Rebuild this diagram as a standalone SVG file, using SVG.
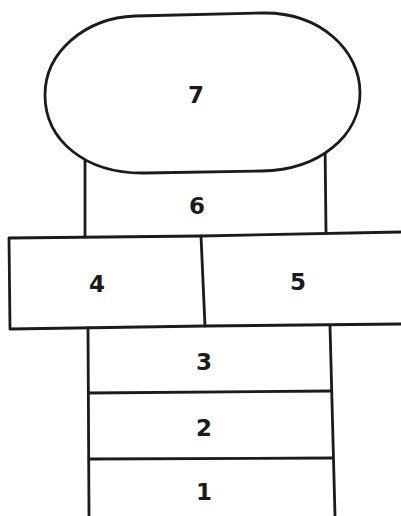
<svg xmlns="http://www.w3.org/2000/svg" width="401" height="516" viewBox="0 0 401 516">
<style>
.ln{fill:none;stroke:#1c1a1a;stroke-width:2.8;stroke-linecap:round;stroke-linejoin:round}
.sh{fill:#fff;stroke:#1c1a1a;stroke-width:2.8;stroke-linejoin:round}
.t{font-family:"DejaVu Sans",sans-serif;font-weight:bold;font-size:23px;fill:#1c1a1a;text-anchor:middle}
</style>
<rect width="401" height="516" fill="#fff"/>
<g id="connectors">
</g>
<g id="node6">
<path class="ln" d="M85,150 L85,237 M325,140 L326,233"/>
<text class="t" x="197" y="214">6</text>
</g>
<g id="node7">
<path class="sh" d="M135,16 L262,13 C320,12 360,50 360,93 C360,135 320,170 262,171 L145,173 C85,174 45,140 45,95 C45,52 85,18 135,16 Z"/>
<text class="t" x="196" y="103">7</text>
</g>
<g id="node4">
<path class="ln" d="M201,236 L9,238 L10,329 L205,326"/>
<text class="t" x="97" y="292">4</text>
</g>
<g id="node5">
<path class="ln" d="M201,236 L401,232 M205,326 L401,324 M201,236 L205,326"/>
<text class="t" x="298" y="290">5</text>
</g>
<g id="node3">
<path class="ln" d="M88,328 L89,516 M330,326 L335,516"/>
<text class="t" x="204" y="370">3</text>
</g>
<g id="node2">
<path class="ln" d="M89,393 L330,391"/>
<text class="t" x="204" y="436">2</text>
</g>
<g id="node1">
<path class="ln" d="M89,459 L332,458"/>
<text class="t" x="204" y="500">1</text>
</g>
</svg>
